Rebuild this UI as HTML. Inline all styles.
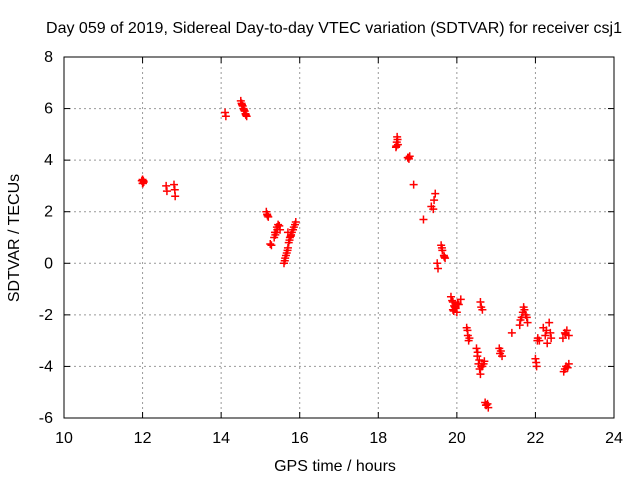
<!DOCTYPE html>
<html><head><meta charset="utf-8"><style>
body{margin:0;background:#fff}
svg text{font-family:"Liberation Sans",sans-serif;font-size:16px;fill:#000}
</style></head><body>
<svg id="c" width="640" height="480">
<text x="334" y="33" text-anchor="middle">Day 059 of 2019, Sidereal Day-to-day VTEC variation (SDTVAR) for receiver csj1</text>
<text x="335" y="471" text-anchor="middle">GPS time / hours</text>
<text transform="translate(19,238) rotate(-90)" text-anchor="middle">SDTVAR / TECUs</text>
<g id="grid"></g><g id="ticks"></g><g id="pts"></g>
<rect x="64" y="57" width="550" height="361" fill="none" stroke="#000"/>
</svg>
<script>
const xTicks=[10,12,14,16,18,20,22,24];
const yTicks=[-6,-4,-2,0,2,4,6,8];
const times=[12,12,12.02,12.03,11.98,12.01,12.6,12.62,12.8,12.82,12.83,14.1,14.12,14.5,14.52,14.55,14.57,14.6,14.62,14.65,14.53,14.58,14.63,15.15,15.17,15.2,15.18,15.25,15.28,15.35,15.4,15.42,15.45,15.5,15.38,15.43,15.48,15.37,15.6,15.63,15.67,15.7,15.72,15.75,15.78,15.8,15.85,15.9,15.7,15.62,15.65,15.69,15.74,15.77,15.83,15.88,18.45,18.47,18.48,18.5,18.46,18.49,18.75,18.78,18.8,18.77,18.9,19.15,19.35,19.4,19.42,19.45,19.5,19.52,19.6,19.63,19.67,19.7,19.62,19.68,19.85,19.9,19.95,20,20.05,20.1,19.9,19.88,19.93,19.97,20.02,19.92,20.25,20.28,20.3,20.27,20.32,20.5,20.52,20.55,20.58,20.6,20.65,20.7,20.53,20.57,20.62,20.68,20.6,20.62,20.65,20.72,20.75,20.8,20.74,20.78,21.08,21.1,21.15,21.12,21.4,21.6,21.65,21.7,21.75,21.8,21.62,21.68,21.72,21.78,22,22.03,22.06,22.1,22.02,22.05,22.2,22.25,22.3,22.35,22.4,22.28,22.38,22.7,22.75,22.8,22.85,22.77,22.72,22.78,22.85,22.75,22.82];
const values=[3.1,3.25,3.2,3.15,3.2,3.1,3.0,2.8,3.05,2.85,2.6,5.85,5.7,6.3,6.2,6.1,6.0,5.9,5.8,5.7,6.15,5.95,5.75,2.0,1.9,1.8,1.85,0.75,0.7,1.0,1.2,1.4,1.5,1.3,1.1,1.3,1.45,1.2,0.0,0.2,0.4,0.6,0.8,1.0,1.1,1.2,1.4,1.6,1.2,0.1,0.3,0.5,0.9,1.05,1.3,1.5,4.5,4.7,4.9,4.6,4.55,4.8,4.1,4.05,4.15,4.1,3.05,1.7,2.2,2.1,2.45,2.7,0.0,-0.2,0.7,0.5,0.3,0.2,0.6,0.25,-1.3,-1.5,-1.7,-1.9,-1.6,-1.4,-1.8,-1.45,-1.65,-1.75,-1.55,-1.85,-2.5,-2.8,-3.0,-2.6,-2.9,-3.3,-3.6,-3.9,-4.1,-4.3,-4.0,-3.8,-3.45,-3.75,-4.0,-3.9,-1.5,-1.7,-1.8,-5.4,-5.5,-5.6,-5.5,-5.45,-3.3,-3.5,-3.6,-3.4,-2.7,-2.4,-2.1,-1.7,-2.0,-2.3,-2.2,-1.9,-1.8,-2.1,-3.7,-4.0,-2.9,-3.0,-3.85,-3.0,-2.5,-2.8,-3.1,-2.3,-2.9,-2.6,-2.7,-2.9,-2.7,-2.6,-2.8,-2.75,-4.2,-4.0,-3.9,-4.1,-4.05];
const X=v=>64+(v-10)*550/14, Y=v=>57+(8-v)*361/14;
const NS='http://www.w3.org/2000/svg';
const mk=(t,a)=>{const e=document.createElementNS(NS,t);for(const k in a)e.setAttribute(k,a[k]);return e;};
const g=document.getElementById('grid'),tk=document.getElementById('ticks'),p=document.getElementById('pts');
xTicks.forEach(t=>{
 if(t>10&&t<24){const l=mk('line',{x1:X(t),x2:X(t),y1:57,y2:418,stroke:'#999','stroke-dasharray':'2,3'});
 
 g.appendChild(l);}
 tk.appendChild(mk('line',{x1:X(t),x2:X(t),y1:418,y2:412,stroke:'#000'}));
 tk.appendChild(mk('line',{x1:X(t),x2:X(t),y1:57,y2:63,stroke:'#000'}));
 const tx=mk('text',{x:X(t),y:443,'text-anchor':'middle'});tx.textContent=t;
 
 tk.appendChild(tx);
});
yTicks.forEach(t=>{
 if(t>-6&&t<8){const l=mk('line',{x1:64,x2:614,y1:Y(t),y2:Y(t),stroke:'#999','stroke-dasharray':'2,3'});
 
 g.appendChild(l);}
 tk.appendChild(mk('line',{x1:64,x2:70,y1:Y(t),y2:Y(t),stroke:'#000'}));
 tk.appendChild(mk('line',{x1:614,x2:608,y1:Y(t),y2:Y(t),stroke:'#000'}));
 const tx=mk('text',{x:53,y:Y(t)+5,'text-anchor':'end'});tx.textContent=t;
 
 tk.appendChild(tx);
});
times.forEach((t,i)=>{
 const x=X(t),y=Y(values[i]);
 const m=mk('path',{d:`M${x-4} ${y}H${x+4}M${x} ${y-4}V${y+4}`,stroke:'#f00','stroke-width':1.5});
 
 p.appendChild(m);
});
</script>
</body></html>
